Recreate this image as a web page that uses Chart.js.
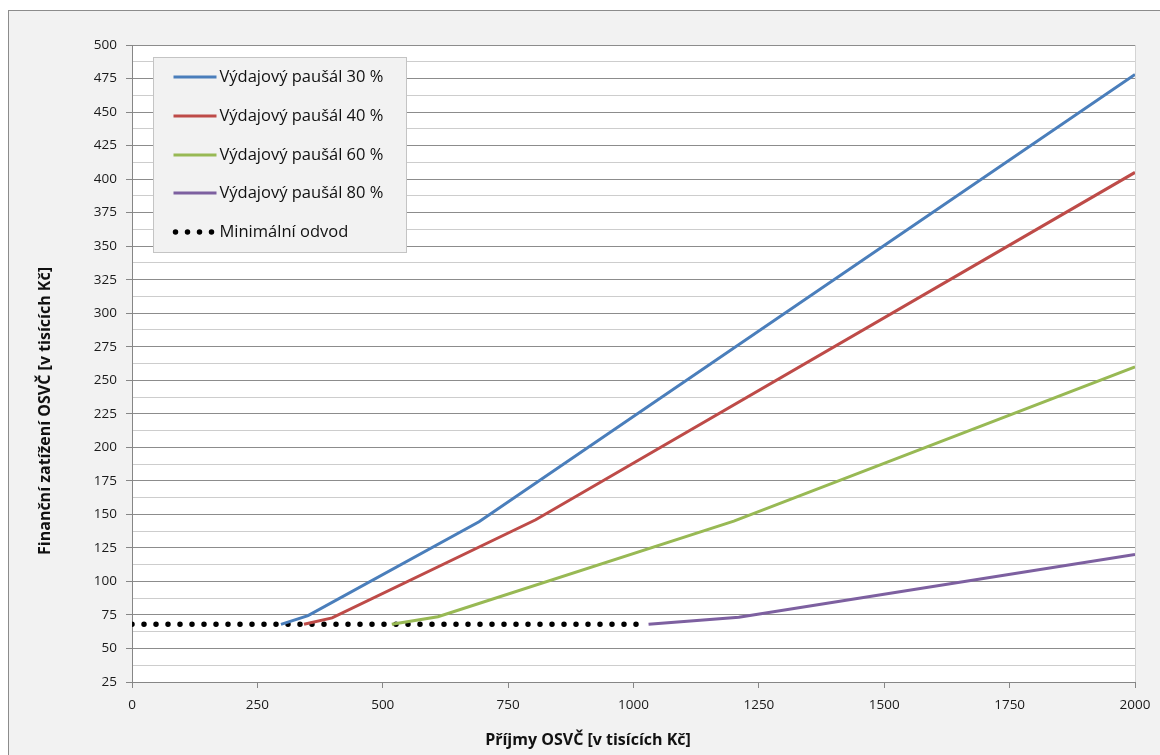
<!DOCTYPE html>
<html lang="cs">
<head>
<meta charset="utf-8">
<title>Finanční zatížení OSVČ</title>
<script src="https://cdn.jsdelivr.net/npm/chart.js@4/dist/chart.umd.min.js"></script>
<style>
  html, body { margin: 0; padding: 0; background: #ffffff; overflow: hidden; }
  #frame {
    position: absolute; left: 8px; top: 10px;
    width: 1160px; height: 760px;
    border: 1px solid #8c8c8c; background: #f2f2f2;
  }
  #chart { display: block; }
</style>
</head>
<body>
<div id="frame"><canvas id="chart" width="1151" height="744"></canvas></div>
<script>
// Příjmy (tis. Kč) a finanční zatížení (tis. Kč) pro jednotlivé výdajové paušály
const income30 = [297, 351, 692, 2000];
const burden30 = [68, 74.5, 144.5, 478];

const income40 = [343, 399, 805, 2000];
const burden40 = [68, 72.8, 146, 405];

const income60 = [518, 610, 1200, 2000];
const burden60 = [68, 73.7, 145, 260];

const income80 = [1030, 1210, 2000];
const burden80 = [68, 73.3, 120];

const incomeMin = [0, 1006];
const burdenMin = [68, 68];

const seriesNames = [
  'Výdajový paušál 30 %',
  'Výdajový paušál 40 %',
  'Výdajový paušál 60 %',
  'Výdajový paušál 80 %',
  'Minimální odvod'
];
const seriesColors = ['#4a7ebb', '#be4b48', '#98b954', '#7d60a0', '#000000'];

const xTitle = 'Příjmy OSVČ [v tisících Kč]';
const yTitle = 'Finanční zatížení OSVČ [v tisících Kč]';

const xTicks = { min: 0, max: 2000, step: 250 };
const yTicks = { min: 25, max: 500, step: 25 };

const toPoints = (xs, ys) => xs.map((x, i) => ({ x: x, y: ys[i] }));

const FONT = '"Open Sans", "Noto Sans", sans-serif';
const MAJOR_GRID = '#8c8c8c';
const MINOR_GRID = '#cdcdcd';
const AXIS = '#868686';

function lineSet(i, xs, ys) {
  return {
    label: seriesNames[i],
    data: toPoints(xs, ys),
    borderColor: seriesColors[i],
    backgroundColor: seriesColors[i],
    borderWidth: 3,
    pointRadius: 0,
    tension: 0
  };
}

const datasets = [
  lineSet(0, income30, burden30),
  lineSet(1, income40, burden40),
  lineSet(2, income60, burden60),
  lineSet(3, income80, burden80),
  Object.assign(lineSet(4, incomeMin, burdenMin), {
    borderWidth: 5.5,
    borderDash: [0, 12],
    borderCapStyle: 'round'
  })
];

// White plot area and light right-hand edge
const plotBackground = {
  id: 'plotBackground',
  beforeDraw(chart) {
    const { ctx, chartArea: a } = chart;
    ctx.save();
    ctx.fillStyle = '#ffffff';
    ctx.fillRect(a.left, a.top, a.right - a.left, a.bottom - a.top);
    ctx.restore();
  },
  afterDraw(chart) {
    const { ctx, chartArea: a } = chart;
    ctx.save();
    ctx.strokeStyle = '#d4d4d4';
    ctx.lineWidth = 1;
    ctx.beginPath();
    ctx.moveTo(Math.round(a.right) + 0.5, a.top);
    ctx.lineTo(Math.round(a.right) + 0.5, a.bottom);
    ctx.stroke();
    ctx.restore();
  }
};

// Axis titles, centred on the whole chart frame
const axisTitles = {
  id: 'axisTitles',
  afterDraw(chart) {
    const { ctx } = chart;
    ctx.save();
    ctx.fillStyle = '#111111';
    ctx.font = 'bold 16px ' + FONT;
    ctx.textAlign = 'center';
    ctx.textBaseline = 'middle';
    ctx.fillText(xTitle, 579, 729);
    ctx.translate(36, 400);
    ctx.rotate(-Math.PI / 2);
    ctx.fillText(yTitle, 0, 0);
    ctx.restore();
  }
};

// Legend box placed inside the plot area
const insideLegend = {
  id: 'insideLegend',
  afterDraw(chart) {
    const { ctx, chartArea: a } = chart;
    const box = { x: a.left + 21.5, y: a.top + 12.5, w: 253, h: 195 };
    ctx.save();
    ctx.fillStyle = '#f2f2f2';
    ctx.strokeStyle = '#c4c4c4';
    ctx.lineWidth = 1;
    ctx.fillRect(box.x, box.y, box.w, box.h);
    ctx.strokeRect(box.x, box.y, box.w, box.h);
    const rowStart = box.y + 19.5;
    const rowGap = 38.8;
    const x0 = box.x + 20, x1 = box.x + 63;
    chart.data.datasets.forEach((ds, i) => {
      const y = Math.round(rowStart + i * rowGap);
      ctx.save();
      ctx.strokeStyle = ds.borderColor;
      ctx.lineWidth = ds.borderWidth;
      ctx.lineCap = ds.borderCapStyle || 'butt';
      ctx.setLineDash(ds.borderDash || []);
      ctx.beginPath();
      if (ds.borderDash) {
        ctx.moveTo(x0 + 2, y);
        ctx.lineTo(x1 - 2, y);
      } else {
        ctx.moveTo(x0, y);
        ctx.lineTo(x1, y);
      }
      ctx.stroke();
      ctx.restore();
      ctx.fillStyle = '#111111';
      ctx.font = '16.5px ' + FONT;
      ctx.textAlign = 'left';
      ctx.textBaseline = 'middle';
      ctx.fillText(ds.label, x1 + 3, y);
    });
    ctx.restore();
  }
};

new Chart(document.getElementById('chart'), {
  type: 'line',
  data: { datasets: datasets },
  options: {
    responsive: false,
    animation: false,
    events: [],
    layout: { padding: { left: 20, right: 25, top: 34, bottom: 0 } },
    plugins: {
      legend: { display: false },
      tooltip: { enabled: false },
      title: { display: false }
    },
    scales: {
      x: {
        type: 'linear',
        min: xTicks.min,
        max: xTicks.max,
        afterFit(scale) { scale.height = 73; },
        border: { color: AXIS, width: 1 },
        grid: {
          drawOnChartArea: false,
          drawTicks: true,
          tickLength: 6,
          tickColor: AXIS
        },
        ticks: {
          stepSize: xTicks.step,
          padding: 9,
          color: '#1a1a1a',
          font: { family: FONT, size: 13.5 },
          maxRotation: 0,
          autoSkip: false,
          callback: v => String(v)
        }
      },
      y: {
        type: 'linear',
        min: yTicks.min,
        max: yTicks.max,
        afterFit(scale) { scale.width = 103; },
        border: { color: AXIS, width: 1 },
        grid: {
          color: ctx => (ctx.tick && ctx.tick.value % yTicks.step === 0) ? MAJOR_GRID : MINOR_GRID,
          tickColor: ctx => (ctx.tick && ctx.tick.value % yTicks.step === 0) ? AXIS : 'rgba(0,0,0,0)',
          tickLength: 6,
          lineWidth: 1
        },
        ticks: {
          stepSize: yTicks.step / 2,
          autoSkip: false,
          padding: 9,
          color: '#1a1a1a',
          font: { family: FONT, size: 13.5 },
          callback: v => (v % yTicks.step === 0) ? String(v) : ''
        }
      }
    }
  },
  plugins: [plotBackground, axisTitles, insideLegend]
});
</script>
</body>
</html>
